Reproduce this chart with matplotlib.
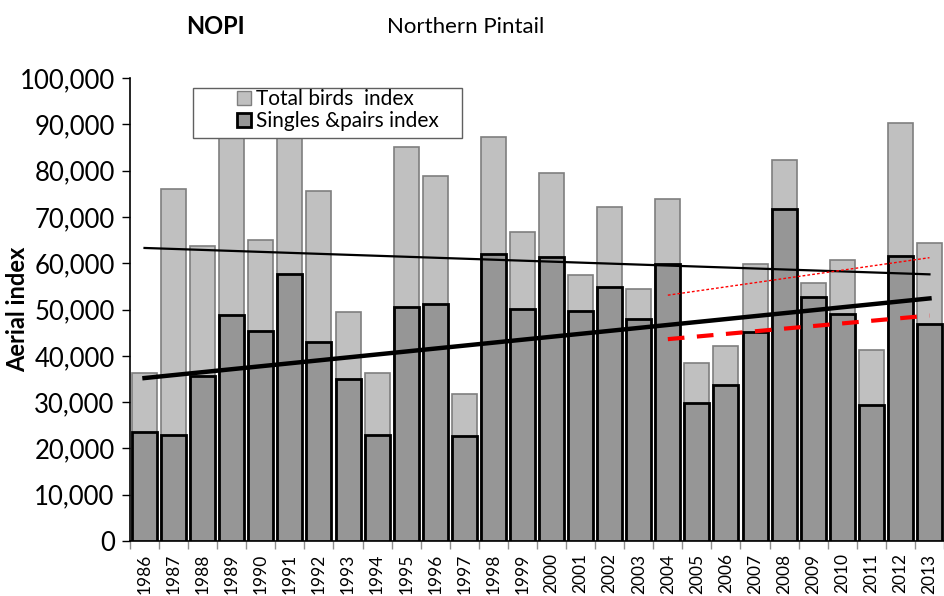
import numpy as np
import matplotlib.pyplot as plt
from matplotlib.ticker import FuncFormatter, FixedLocator
from matplotlib.patches import Patch, Rectangle

plt.rcParams['font.family'] = ['Lato', 'DejaVu Sans']

years = list(range(1986, 2014))
total_birds = [36200, 76000, 63800, 91000, 65000, 93000, 75600, 49400, 36200, 85100,
               78800, 31700, 87200, 66700, 79400, 57400, 72100, 54400, 73800, 38400,
               42100, 59900, 82300, 55800, 60800, 41300, 90400, 64300]
singles_pairs = [23500, 23000, 35600, 48800, 45300, 57700, 43000, 35000, 23000, 50600,
                 51100, 22700, 62100, 50100, 61300, 49700, 54900, 48000, 59800, 29900,
                 33800, 45200, 71700, 52600, 49000, 29400, 61600, 46900]

# trend lines: (start year, end year, start value, end value)
total_trend = (1986, 2013, 63300, 57600)
singles_trend = (1986, 2013, 35200, 52400)
recent_total_trend = (2004, 2013, 53100, 61200)
recent_singles_trend = (2004, 2013, 43600, 48700)

fig = plt.figure(figsize=(9.44, 5.96), dpi=100)
ax = fig.add_axes([0.1377, 0.0923, 0.8623, 0.7767])

x = np.arange(len(years))
ax.bar(x, total_birds, width=0.86, color='#c0c0c0', edgecolor='#7f7f7f', linewidth=1.2, zorder=2)
ax.bar(x, singles_pairs, width=0.86, color='#969696', edgecolor='black', linewidth=2, zorder=3)

def trend(t, **kw):
    x0 = years.index(t[0])
    x1 = years.index(t[1])
    ax.plot([x0, x1], [t[2], t[3]], zorder=4, **kw)

trend(total_trend, color='black', linewidth=1.6)
trend(singles_trend, color='black', linewidth=3.2)
trend(recent_total_trend, color='red', linewidth=1, linestyle=(0, (2, 1.5)))
trend(recent_singles_trend, color='red', linewidth=3, linestyle=(0, (4, 3)))

ax.set_xlim(-0.5, len(years) - 0.5)
ax.set_ylim(0, 100000)
ax.set_yticks(np.arange(0, 100001, 10000))
ax.yaxis.set_major_formatter(FuncFormatter(lambda v, p: f'{int(v):,}'))
ax.tick_params(axis='y', labelsize=18.5, length=6, width=1, direction='out', pad=5)

ax.set_xticks(x)
ax.set_xticklabels([str(y) for y in years], rotation=90, fontsize=12.5)
ax.tick_params(axis='x', length=0, pad=9)
ax.xaxis.set_minor_locator(FixedLocator(np.arange(-0.5, len(years), 1)))
ax.tick_params(axis='x', which='minor', length=6, color='#909090', width=1)

ax.spines['top'].set_visible(False)
ax.spines['right'].set_visible(False)
ax.spines['left'].set_linewidth(1.2)
ax.spines['bottom'].set_linewidth(1.2)

ax.set_ylabel('Aerial index', fontsize=17, fontweight='bold')
ax.yaxis.set_label_coords(-0.124, 0.5)

# legend frame drawn separately so entries sit indented like the original
ax.add_patch(Rectangle((0.0774, 0.870), 0.331, 0.108, transform=ax.transAxes,
                       facecolor='white', edgecolor='#606060', linewidth=1, zorder=5))
handles = [Patch(facecolor='#c0c0c0', edgecolor='#7f7f7f', linewidth=1, label='Total birds  index'),
           Patch(facecolor='#969696', edgecolor='black', linewidth=2, label='Singles &pairs index')]
leg = ax.legend(handles=handles, loc='upper left', bbox_to_anchor=(0.1265, 0.985),
                fontsize=15, frameon=False, borderpad=0.2, handlelength=0.65, handleheight=0.65,
                handletextpad=0.25, labelspacing=0.1, borderaxespad=0)
leg.set_zorder(6)

fig.text(0.228, 0.955, 'NOPI', fontsize=17, fontweight='bold', ha='center', va='center')
fig.text(0.493, 0.955, 'Northern Pintail', fontsize=16, ha='center', va='center')

fig.savefig('out.png', dpi=100)
